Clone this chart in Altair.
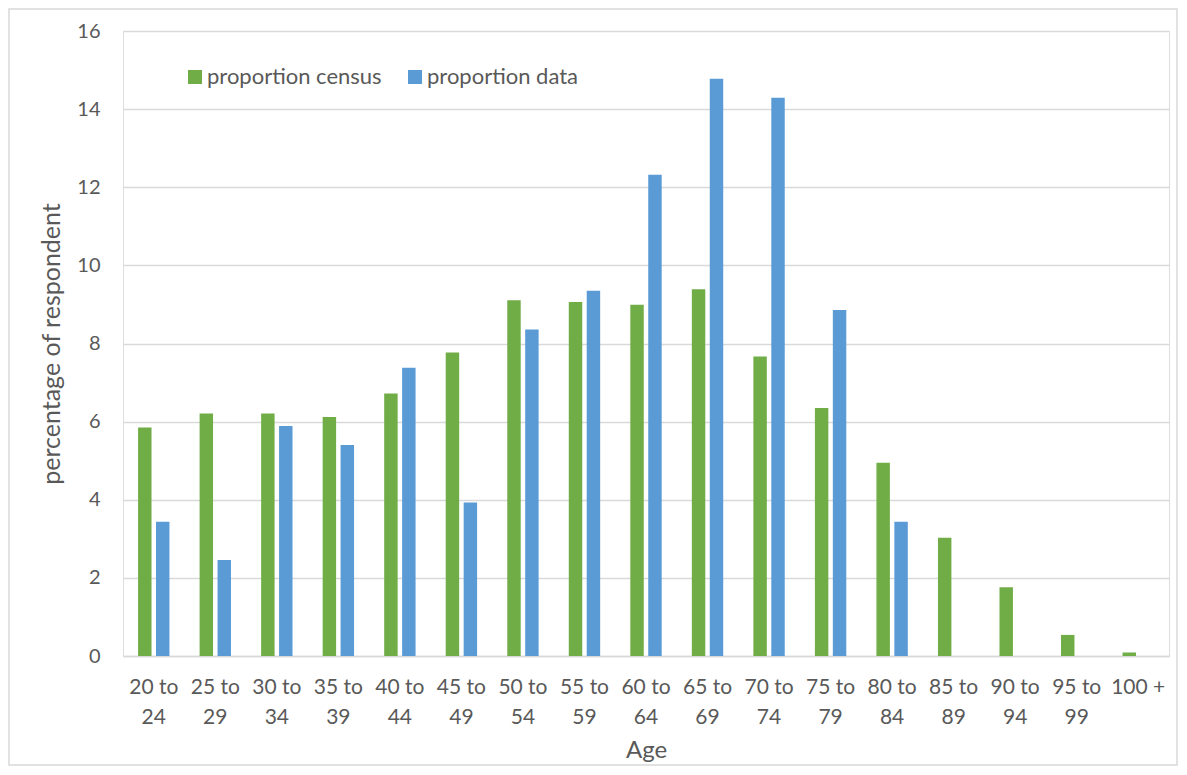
import altair as alt
import pandas as pd

age_groups = ["20 to 24", "25 to 29", "30 to 34", "35 to 39", "40 to 44", "45 to 49",
              "50 to 54", "55 to 59", "60 to 64", "65 to 69", "70 to 74", "75 to 79",
              "80 to 84", "85 to 89", "90 to 94", "95 to 99", "100 +"]
proportion_census = [5.85, 6.21, 6.21, 6.12, 6.72, 7.77, 9.11, 9.06, 8.99, 9.39, 7.67, 6.35,
                     4.95, 3.03, 1.76, 0.54, 0.09]
proportion_data = [3.44, 2.46, 5.89, 5.40, 7.38, 3.93, 8.36, 9.35, 12.32, 14.78, 14.29, 8.86,
                   3.44, 0, 0, 0, 0]
series_names = ["proportion census", "proportion data"]
series_colors = ["#70AD47", "#5B9BD5"]

rows = []
for i, g in enumerate(age_groups):
    rows.append({"age": g, "series": series_names[0], "value": proportion_census[i]})
    rows.append({"age": g, "series": series_names[1], "value": proportion_data[i]})
df = pd.DataFrame(rows)

FONT = "Lato"
TXT = "#595959"
W, H = 1046, 625
PL, PT, PR, PB = 115, 23, 9, 111

label_expr = ("indexof(datum.label, ' to ') >= 0 ? "
              "[substring(datum.label, 0, indexof(datum.label, ' to ') + 3), "
              "substring(datum.label, indexof(datum.label, ' to ') + 4)] : datum.label")

bars = alt.Chart(df).mark_bar().encode(
    x=alt.X("age:N", sort=age_groups,
            scale=alt.Scale(paddingInner=0.49, paddingOuter=0.245),
            axis=alt.Axis(title="Age", labelAngle=0, labelExpr=label_expr,
                          labelFontSize=21, labelLineHeight=30, labelPadding=20,
                          labelColor=TXT, labelFont=FONT, ticks=False,
                          domainColor="#d9d9d9", domainWidth=1.5,
                          titleFontSize=24, titleFont=FONT, titleColor=TXT,
                          titleFontWeight="normal", titlePadding=11, labelLimit=200)),
    xOffset=alt.XOffset("series:N", sort=series_names,
                        scale=alt.Scale(paddingInner=0.25, paddingOuter=0)),
    y=alt.Y("value:Q", scale=alt.Scale(domain=[0, 16], nice=False),
            axis=alt.Axis(title="percentage of respondent", values=list(range(0, 17, 2)),
                          labelFontSize=20, labelColor=TXT, labelFont=FONT, labelPadding=23,
                          ticks=False, domain=False, gridColor="#d9d9d9", gridWidth=1.5,
                          titleFontSize=25, titleFont=FONT, titleColor=TXT,
                          titleFontWeight="normal", titlePadding=12)),
    color=alt.Color("series:N", sort=series_names,
                    scale=alt.Scale(domain=series_names, range=series_colors),
                    legend=alt.Legend(title=None, orient="none", direction="horizontal",
                                      legendX=61, legendY=35, symbolType="square",
                                      symbolSize=196, symbolStrokeWidth=0,
                                      labelFontSize=22, labelFont=FONT, labelColor=TXT,
                                      labelOffset=1, columnPadding=22, padding=0,
                                      labelLimit=400)),
)

border = alt.Chart(pd.DataFrame({"a": [0]})).mark_rect(
    filled=False, stroke="#d9d9d9", strokeWidth=1.5
).encode(
    x=alt.value(-PL + 1), x2=alt.value(W + PR - 1),
    y=alt.value(-PT + 1), y2=alt.value(H + PB - 2)
)

chart = alt.layer(border, bars).properties(
    width=W, height=H,
    padding={"left": PL, "top": PT, "right": PR, "bottom": PB},
    autosize=alt.AutoSizeParams(type="none"),
).configure_view(stroke=None).configure(font=FONT)

chart.save("out.html", embed_options={"renderer": "svg", "actions": False})
